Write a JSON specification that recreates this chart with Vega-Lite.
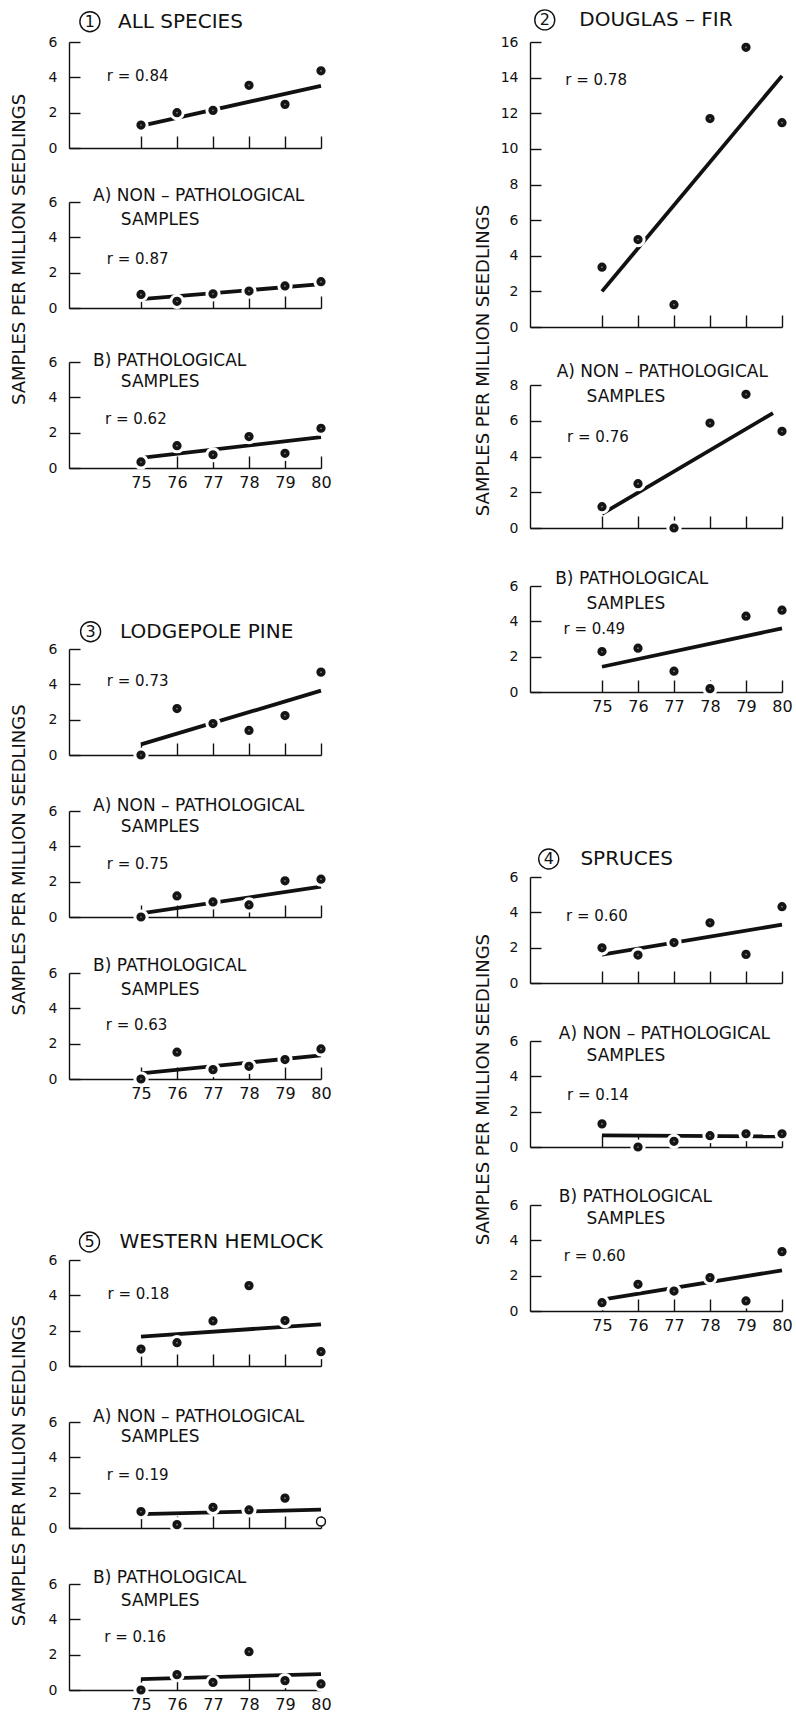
{
"$schema": "https://vega.github.io/schema/vega-lite/v6.json",
"padding": {"left": 11, "top": 7, "right": 5, "bottom": 2},
"background": "white",
"config": {
  "view": {"stroke": null},
  "font": "DejaVu Sans",
  "axis": {"labelFlush": false, "labelOverlap": false, "grid": false, "domainColor": "#111", "tickColor": "#111", "labelColor": "#111", "domainWidth": 1.4, "tickWidth": 1.4, "labelFontSize": 14, "labelFont": "DejaVu Sans"},
  "text": {"color": "#111", "font": "DejaVu Sans"},
  "title": {"font": "DejaVu Sans", "fontWeight": "normal", "color": "#111"}
},
"datasets": {
  "pts": [
    {"panel":"1T","year":75,"value":1.3},{"panel":"1T","year":76,"value":2.0},{"panel":"1T","year":77,"value":2.13},{"panel":"1T","year":78,"value":3.55},{"panel":"1T","year":79,"value":2.47},{"panel":"1T","year":80,"value":4.37},
    {"panel":"1A","year":75,"value":0.77},{"panel":"1A","year":76,"value":0.38},{"panel":"1A","year":77,"value":0.8},{"panel":"1A","year":78,"value":0.96},{"panel":"1A","year":79,"value":1.25},{"panel":"1A","year":80,"value":1.49},
    {"panel":"1B","year":75,"value":0.34},{"panel":"1B","year":76,"value":1.26},{"panel":"1B","year":77,"value":0.75},{"panel":"1B","year":78,"value":1.78},{"panel":"1B","year":79,"value":0.83},{"panel":"1B","year":80,"value":2.25},
    {"panel":"2T","year":75,"value":3.36},{"panel":"2T","year":76,"value":4.91},{"panel":"2T","year":77,"value":1.25},{"panel":"2T","year":78,"value":11.7},{"panel":"2T","year":79,"value":15.7},{"panel":"2T","year":80,"value":11.47},
    {"panel":"2A","year":75,"value":1.19},{"panel":"2A","year":76,"value":2.48},{"panel":"2A","year":77,"value":0.0},{"panel":"2A","year":78,"value":5.87},{"panel":"2A","year":79,"value":7.48},{"panel":"2A","year":80,"value":5.41},
    {"panel":"2B","year":75,"value":2.29},{"panel":"2B","year":76,"value":2.48},{"panel":"2B","year":77,"value":1.18},{"panel":"2B","year":78,"value":0.19},{"panel":"2B","year":79,"value":4.29},{"panel":"2B","year":80,"value":4.63},
    {"panel":"3T","year":75,"value":0.0},{"panel":"3T","year":76,"value":2.63},{"panel":"3T","year":77,"value":1.78},{"panel":"3T","year":78,"value":1.39},{"panel":"3T","year":79,"value":2.23},{"panel":"3T","year":80,"value":4.69},
    {"panel":"3A","year":75,"value":0.0},{"panel":"3A","year":76,"value":1.19},{"panel":"3A","year":77,"value":0.85},{"panel":"3A","year":78,"value":0.68},{"panel":"3A","year":79,"value":2.05},{"panel":"3A","year":80,"value":2.14},
    {"panel":"3B","year":75,"value":0.0},{"panel":"3B","year":76,"value":1.52},{"panel":"3B","year":77,"value":0.53},{"panel":"3B","year":78,"value":0.72},{"panel":"3B","year":79,"value":1.1},{"panel":"3B","year":80,"value":1.7},
    {"panel":"4T","year":75,"value":1.99},{"panel":"4T","year":76,"value":1.58},{"panel":"4T","year":77,"value":2.29},{"panel":"4T","year":78,"value":3.41},{"panel":"4T","year":79,"value":1.62},{"panel":"4T","year":80,"value":4.32},
    {"panel":"4A","year":75,"value":1.31},{"panel":"4A","year":76,"value":0.0},{"panel":"4A","year":77,"value":0.32},{"panel":"4A","year":78,"value":0.64},{"panel":"4A","year":79,"value":0.75},{"panel":"4A","year":80,"value":0.75},
    {"panel":"4B","year":75,"value":0.47},{"panel":"4B","year":76,"value":1.51},{"panel":"4B","year":77,"value":1.13},{"panel":"4B","year":78,"value":1.89},{"panel":"4B","year":79,"value":0.57},{"panel":"4B","year":80,"value":3.36},
    {"panel":"5T","year":75,"value":0.96},{"panel":"5T","year":76,"value":1.32},{"panel":"5T","year":77,"value":2.55},{"panel":"5T","year":78,"value":4.55},{"panel":"5T","year":79,"value":2.57},{"panel":"5T","year":80,"value":0.81},
    {"panel":"5A","year":75,"value":0.93},{"panel":"5A","year":76,"value":0.19},{"panel":"5A","year":77,"value":1.17},{"panel":"5A","year":78,"value":1.02},{"panel":"5A","year":79,"value":1.69},{"panel":"5A","year":80,"value":0.37,"hollow":true},
    {"panel":"5B","year":75,"value":0.0},{"panel":"5B","year":76,"value":0.87},{"panel":"5B","year":77,"value":0.43},{"panel":"5B","year":78,"value":2.17},{"panel":"5B","year":79,"value":0.53},{"panel":"5B","year":80,"value":0.34}
  ],
  "fit": [
    {"panel":"1T","year":75,"value":1.25},{"panel":"1T","year":80,"value":3.52},
    {"panel":"1A","year":75,"value":0.5},{"panel":"1A","year":80,"value":1.35},
    {"panel":"1B","year":75,"value":0.57},{"panel":"1B","year":80,"value":1.75},
    {"panel":"2T","year":75,"value":2.0},{"panel":"2T","year":80,"value":14.1},
    {"panel":"2A","year":75,"value":0.79},{"panel":"2A","year":79.75,"value":6.43},
    {"panel":"2B","year":75,"value":1.43},{"panel":"2B","year":80,"value":3.6},
    {"panel":"3T","year":75,"value":0.6},{"panel":"3T","year":80,"value":3.64},
    {"panel":"3A","year":75,"value":0.2},{"panel":"3A","year":80,"value":1.72},
    {"panel":"3B","year":75,"value":0.32},{"panel":"3B","year":80,"value":1.34},
    {"panel":"4T","year":75,"value":1.61},{"panel":"4T","year":80,"value":3.3},
    {"panel":"4A","year":75,"value":0.66},{"panel":"4A","year":80,"value":0.6},
    {"panel":"4B","year":75,"value":0.65},{"panel":"4B","year":80,"value":2.3},
    {"panel":"5T","year":75,"value":1.66},{"panel":"5T","year":80,"value":2.36},
    {"panel":"5A","year":75,"value":0.78},{"panel":"5A","year":80,"value":1.04},
    {"panel":"5B","year":75,"value":0.62},{"panel":"5B","year":80,"value":0.9}
  ],
  "notes": [
    {"panel":"1T","rlabel":"r = 0.84","num":"1","species":"ALL SPECIES"},
    {"panel":"1A","rlabel":"r = 0.87","head":"A) NON – PATHOLOGICAL","sub":"SAMPLES"},
    {"panel":"1B","rlabel":"r = 0.62","head":"B) PATHOLOGICAL","sub":"SAMPLES"},
    {"panel":"2T","rlabel":"r = 0.78","num":"2","species":"DOUGLAS – FIR"},
    {"panel":"2A","rlabel":"r = 0.76","head":"A) NON – PATHOLOGICAL","sub":"SAMPLES"},
    {"panel":"2B","rlabel":"r = 0.49","head":"B) PATHOLOGICAL","sub":"SAMPLES"},
    {"panel":"3T","rlabel":"r = 0.73","num":"3","species":"LODGEPOLE PINE"},
    {"panel":"3A","rlabel":"r = 0.75","head":"A) NON – PATHOLOGICAL","sub":"SAMPLES"},
    {"panel":"3B","rlabel":"r = 0.63","head":"B) PATHOLOGICAL","sub":"SAMPLES"},
    {"panel":"4T","rlabel":"r = 0.60","num":"4","species":"SPRUCES"},
    {"panel":"4A","rlabel":"r = 0.14","head":"A) NON – PATHOLOGICAL","sub":"SAMPLES"},
    {"panel":"4B","rlabel":"r = 0.60","head":"B) PATHOLOGICAL","sub":"SAMPLES"},
    {"panel":"5T","rlabel":"r = 0.18","num":"5","species":"WESTERN HEMLOCK"},
    {"panel":"5A","rlabel":"r = 0.19","head":"A) NON – PATHOLOGICAL","sub":"SAMPLES"},
    {"panel":"5B","rlabel":"r = 0.16","head":"B) PATHOLOGICAL","sub":"SAMPLES"}
  ]
},
"spacing": 141,
"hconcat": [
 {"spacing": 128, "vconcat": [
  {"title": {"text": "SAMPLES PER MILLION SEEDLINGS", "orient": "left", "anchor": "middle", "fontSize": 18, "offset": 19}, "bounds": "flush", "spacing": 54, "vconcat": [
   {"width": 252, "height": 106, "layer": [
    {"data":{"name":"fit"},"transform":[{"filter":"datum.panel === '1T'"}],"mark":{"type":"line","color":"#111","strokeWidth":3.8,"strokeCap":"butt"},"encoding":{"x":{"field":"year","type":"quantitative","scale":{"domain":[73,80],"nice":false,"zero":false},"axis":{"values":[75,76,77,78,79,80],"title":null,"labels":false,"tickSize":-12}},"y":{"field":"value","type":"quantitative","scale":{"domain":[0,6],"nice":false},"axis":{"values":[0,2,4,6],"tickCount":20,"format":"d","title":null,"tickSize":-11,"labelPadding":23,"labelOverlap":false}}}},
    {"data":{"name":"pts"},"transform":[{"filter":"datum.panel === '1T' && !datum.hollow"}],"mark":{"type":"point","shape":"circle","filled":true,"fill":"#151515","stroke":"#ffffff","strokeWidth":3,"size":150,"opacity":1},"encoding":{"x":{"field":"year","type":"quantitative"},"y":{"field":"value","type":"quantitative"}}},
    {"data":{"name":"pts"},"transform":[{"filter":"datum.panel === '1T' && !datum.hollow"}],"mark":{"type":"point","shape":"circle","filled":true,"color":"#808080","size":3,"opacity":1},"encoding":{"x":{"field":"year","type":"quantitative"},"y":{"field":"value","type":"quantitative"}}},
    {"data":{"name":"notes"},"transform":[{"filter":"datum.panel === '1T'"}],"mark":{"type":"text","align":"left","baseline":"middle","fontSize":15},"encoding":{"x":{"datum":74.05},"y":{"datum":4.1},"text":{"field":"rlabel"}}},
    {"data":{"name":"notes"},"transform":[{"filter":"datum.panel === '1T'"}],"mark":{"type":"point","shape":"circle","filled":false,"color":"#111","strokeWidth":1.4,"size":400,"opacity":1},"encoding":{"x":{"datum":73.58},"y":{"datum":7.15}}},
    {"data":{"name":"notes"},"transform":[{"filter":"datum.panel === '1T'"}],"mark":{"type":"text","align":"center","baseline":"middle","fontSize":16},"encoding":{"x":{"datum":73.58},"y":{"datum":7.15},"text":{"field":"num"}}},
    {"data":{"name":"notes"},"transform":[{"filter":"datum.panel === '1T'"}],"mark":{"type":"text","align":"left","baseline":"middle","fontSize":20},"encoding":{"x":{"datum":74.36},"y":{"datum":7.15},"text":{"field":"species"}}}
   ]},
   {"width": 252, "height": 106, "layer": [
    {"data":{"name":"fit"},"transform":[{"filter":"datum.panel === '1A'"}],"mark":{"type":"line","color":"#111","strokeWidth":3.8,"strokeCap":"butt"},"encoding":{"x":{"field":"year","type":"quantitative","scale":{"domain":[73,80],"nice":false,"zero":false},"axis":{"values":[75,76,77,78,79,80],"title":null,"labels":false,"tickSize":-12}},"y":{"field":"value","type":"quantitative","scale":{"domain":[0,6],"nice":false},"axis":{"values":[0,2,4,6],"tickCount":20,"format":"d","title":null,"tickSize":-11,"labelPadding":23,"labelOverlap":false}}}},
    {"data":{"name":"pts"},"transform":[{"filter":"datum.panel === '1A' && !datum.hollow"}],"mark":{"type":"point","shape":"circle","filled":true,"fill":"#151515","stroke":"#ffffff","strokeWidth":3,"size":150,"opacity":1},"encoding":{"x":{"field":"year","type":"quantitative"},"y":{"field":"value","type":"quantitative"}}},
    {"data":{"name":"pts"},"transform":[{"filter":"datum.panel === '1A' && !datum.hollow"}],"mark":{"type":"point","shape":"circle","filled":true,"color":"#808080","size":3,"opacity":1},"encoding":{"x":{"field":"year","type":"quantitative"},"y":{"field":"value","type":"quantitative"}}},
    {"data":{"name":"notes"},"transform":[{"filter":"datum.panel === '1A'"}],"mark":{"type":"text","align":"left","baseline":"middle","fontSize":15},"encoding":{"x":{"datum":74.05},"y":{"datum":2.8},"text":{"field":"rlabel"}}},
    {"data":{"name":"notes"},"transform":[{"filter":"datum.panel === '1A'"}],"mark":{"type":"text","align":"left","baseline":"middle","fontSize":17},"encoding":{"x":{"datum":73.67},"y":{"datum":6.34},"text":{"field":"head"}}},
    {"data":{"name":"notes"},"transform":[{"filter":"datum.panel === '1A'"}],"mark":{"type":"text","align":"left","baseline":"middle","fontSize":17},"encoding":{"x":{"datum":74.44},"y":{"datum":4.98},"text":{"field":"sub"}}}
   ]},
   {"width": 252, "height": 106, "layer": [
    {"data":{"name":"fit"},"transform":[{"filter":"datum.panel === '1B'"}],"mark":{"type":"line","color":"#111","strokeWidth":3.8,"strokeCap":"butt"},"encoding":{"x":{"field":"year","type":"quantitative","scale":{"domain":[73,80],"nice":false,"zero":false},"axis":{"values":[75,76,77,78,79,80],"title":null,"tickSize":-12,"labelPadding":18,"labelFontSize":16}},"y":{"field":"value","type":"quantitative","scale":{"domain":[0,6],"nice":false},"axis":{"values":[0,2,4,6],"tickCount":20,"format":"d","title":null,"tickSize":-11,"labelPadding":23,"labelOverlap":false}}}},
    {"data":{"name":"pts"},"transform":[{"filter":"datum.panel === '1B' && !datum.hollow"}],"mark":{"type":"point","shape":"circle","filled":true,"fill":"#151515","stroke":"#ffffff","strokeWidth":3,"size":150,"opacity":1},"encoding":{"x":{"field":"year","type":"quantitative"},"y":{"field":"value","type":"quantitative"}}},
    {"data":{"name":"pts"},"transform":[{"filter":"datum.panel === '1B' && !datum.hollow"}],"mark":{"type":"point","shape":"circle","filled":true,"color":"#808080","size":3,"opacity":1},"encoding":{"x":{"field":"year","type":"quantitative"},"y":{"field":"value","type":"quantitative"}}},
    {"data":{"name":"notes"},"transform":[{"filter":"datum.panel === '1B'"}],"mark":{"type":"text","align":"left","baseline":"middle","fontSize":15},"encoding":{"x":{"datum":74.0},"y":{"datum":2.8},"text":{"field":"rlabel"}}},
    {"data":{"name":"notes"},"transform":[{"filter":"datum.panel === '1B'"}],"mark":{"type":"text","align":"left","baseline":"middle","fontSize":17},"encoding":{"x":{"datum":73.67},"y":{"datum":6.05},"text":{"field":"head"}}},
    {"data":{"name":"notes"},"transform":[{"filter":"datum.panel === '1B'"}],"mark":{"type":"text","align":"left","baseline":"middle","fontSize":17},"encoding":{"x":{"datum":74.44},"y":{"datum":4.88},"text":{"field":"sub"}}}
   ]}
  ]},
  {"title": {"text": "SAMPLES PER MILLION SEEDLINGS", "orient": "left", "anchor": "middle", "fontSize": 18, "offset": 19}, "bounds": "flush", "spacing": 56, "vconcat": [
   {"width": 252, "height": 106, "layer": [
    {"data":{"name":"fit"},"transform":[{"filter":"datum.panel === '3T'"}],"mark":{"type":"line","color":"#111","strokeWidth":3.8,"strokeCap":"butt"},"encoding":{"x":{"field":"year","type":"quantitative","scale":{"domain":[73,80],"nice":false,"zero":false},"axis":{"values":[75,76,77,78,79,80],"title":null,"labels":false,"tickSize":-12}},"y":{"field":"value","type":"quantitative","scale":{"domain":[0,6],"nice":false},"axis":{"values":[0,2,4,6],"tickCount":20,"format":"d","title":null,"tickSize":-11,"labelPadding":23,"labelOverlap":false}}}},
    {"data":{"name":"pts"},"transform":[{"filter":"datum.panel === '3T' && !datum.hollow"}],"mark":{"type":"point","shape":"circle","filled":true,"fill":"#151515","stroke":"#ffffff","strokeWidth":3,"size":150,"opacity":1},"encoding":{"x":{"field":"year","type":"quantitative"},"y":{"field":"value","type":"quantitative"}}},
    {"data":{"name":"pts"},"transform":[{"filter":"datum.panel === '3T' && !datum.hollow"}],"mark":{"type":"point","shape":"circle","filled":true,"color":"#808080","size":3,"opacity":1},"encoding":{"x":{"field":"year","type":"quantitative"},"y":{"field":"value","type":"quantitative"}}},
    {"data":{"name":"notes"},"transform":[{"filter":"datum.panel === '3T'"}],"mark":{"type":"text","align":"left","baseline":"middle","fontSize":15},"encoding":{"x":{"datum":74.05},"y":{"datum":4.2},"text":{"field":"rlabel"}}},
    {"data":{"name":"notes"},"transform":[{"filter":"datum.panel === '3T'"}],"mark":{"type":"point","shape":"circle","filled":false,"color":"#111","strokeWidth":1.4,"size":400,"opacity":1},"encoding":{"x":{"datum":73.6},"y":{"datum":6.98}}},
    {"data":{"name":"notes"},"transform":[{"filter":"datum.panel === '3T'"}],"mark":{"type":"text","align":"center","baseline":"middle","fontSize":16},"encoding":{"x":{"datum":73.6},"y":{"datum":6.98},"text":{"field":"num"}}},
    {"data":{"name":"notes"},"transform":[{"filter":"datum.panel === '3T'"}],"mark":{"type":"text","align":"left","baseline":"middle","fontSize":20},"encoding":{"x":{"datum":74.42},"y":{"datum":6.98},"text":{"field":"species"}}}
   ]},
   {"width": 252, "height": 106, "layer": [
    {"data":{"name":"fit"},"transform":[{"filter":"datum.panel === '3A'"}],"mark":{"type":"line","color":"#111","strokeWidth":3.8,"strokeCap":"butt"},"encoding":{"x":{"field":"year","type":"quantitative","scale":{"domain":[73,80],"nice":false,"zero":false},"axis":{"values":[75,76,77,78,79,80],"title":null,"labels":false,"tickSize":-12}},"y":{"field":"value","type":"quantitative","scale":{"domain":[0,6],"nice":false},"axis":{"values":[0,2,4,6],"tickCount":20,"format":"d","title":null,"tickSize":-11,"labelPadding":23,"labelOverlap":false}}}},
    {"data":{"name":"pts"},"transform":[{"filter":"datum.panel === '3A' && !datum.hollow"}],"mark":{"type":"point","shape":"circle","filled":true,"fill":"#151515","stroke":"#ffffff","strokeWidth":3,"size":150,"opacity":1},"encoding":{"x":{"field":"year","type":"quantitative"},"y":{"field":"value","type":"quantitative"}}},
    {"data":{"name":"pts"},"transform":[{"filter":"datum.panel === '3A' && !datum.hollow"}],"mark":{"type":"point","shape":"circle","filled":true,"color":"#808080","size":3,"opacity":1},"encoding":{"x":{"field":"year","type":"quantitative"},"y":{"field":"value","type":"quantitative"}}},
    {"data":{"name":"notes"},"transform":[{"filter":"datum.panel === '3A'"}],"mark":{"type":"text","align":"left","baseline":"middle","fontSize":15},"encoding":{"x":{"datum":74.05},"y":{"datum":3.0},"text":{"field":"rlabel"}}},
    {"data":{"name":"notes"},"transform":[{"filter":"datum.panel === '3A'"}],"mark":{"type":"text","align":"left","baseline":"middle","fontSize":17},"encoding":{"x":{"datum":73.67},"y":{"datum":6.28},"text":{"field":"head"}}},
    {"data":{"name":"notes"},"transform":[{"filter":"datum.panel === '3A'"}],"mark":{"type":"text","align":"left","baseline":"middle","fontSize":17},"encoding":{"x":{"datum":74.44},"y":{"datum":5.1},"text":{"field":"sub"}}}
   ]},
   {"width": 252, "height": 106, "layer": [
    {"data":{"name":"fit"},"transform":[{"filter":"datum.panel === '3B'"}],"mark":{"type":"line","color":"#111","strokeWidth":3.8,"strokeCap":"butt"},"encoding":{"x":{"field":"year","type":"quantitative","scale":{"domain":[73,80],"nice":false,"zero":false},"axis":{"values":[75,76,77,78,79,80],"title":null,"tickSize":-12,"labelPadding":18,"labelFontSize":16}},"y":{"field":"value","type":"quantitative","scale":{"domain":[0,6],"nice":false},"axis":{"values":[0,2,4,6],"tickCount":20,"format":"d","title":null,"tickSize":-11,"labelPadding":23,"labelOverlap":false}}}},
    {"data":{"name":"pts"},"transform":[{"filter":"datum.panel === '3B' && !datum.hollow"}],"mark":{"type":"point","shape":"circle","filled":true,"fill":"#151515","stroke":"#ffffff","strokeWidth":3,"size":150,"opacity":1},"encoding":{"x":{"field":"year","type":"quantitative"},"y":{"field":"value","type":"quantitative"}}},
    {"data":{"name":"pts"},"transform":[{"filter":"datum.panel === '3B' && !datum.hollow"}],"mark":{"type":"point","shape":"circle","filled":true,"color":"#808080","size":3,"opacity":1},"encoding":{"x":{"field":"year","type":"quantitative"},"y":{"field":"value","type":"quantitative"}}},
    {"data":{"name":"notes"},"transform":[{"filter":"datum.panel === '3B'"}],"mark":{"type":"text","align":"left","baseline":"middle","fontSize":15},"encoding":{"x":{"datum":74.02},"y":{"datum":3.03},"text":{"field":"rlabel"}}},
    {"data":{"name":"notes"},"transform":[{"filter":"datum.panel === '3B'"}],"mark":{"type":"text","align":"left","baseline":"middle","fontSize":17},"encoding":{"x":{"datum":73.67},"y":{"datum":6.4},"text":{"field":"head"}}},
    {"data":{"name":"notes"},"transform":[{"filter":"datum.panel === '3B'"}],"mark":{"type":"text","align":"left","baseline":"middle","fontSize":17},"encoding":{"x":{"datum":74.44},"y":{"datum":5.02},"text":{"field":"sub"}}}
   ]}
  ]},
  {"title": {"text": "SAMPLES PER MILLION SEEDLINGS", "orient": "left", "anchor": "middle", "fontSize": 18, "offset": 19}, "bounds": "flush", "spacing": 56, "vconcat": [
   {"width": 252, "height": 106, "layer": [
    {"data":{"name":"fit"},"transform":[{"filter":"datum.panel === '5T'"}],"mark":{"type":"line","color":"#111","strokeWidth":3.8,"strokeCap":"butt"},"encoding":{"x":{"field":"year","type":"quantitative","scale":{"domain":[73,80],"nice":false,"zero":false},"axis":{"values":[75,76,77,78,79,80],"title":null,"labels":false,"tickSize":-12}},"y":{"field":"value","type":"quantitative","scale":{"domain":[0,6],"nice":false},"axis":{"values":[0,2,4,6],"tickCount":20,"format":"d","title":null,"tickSize":-11,"labelPadding":23,"labelOverlap":false}}}},
    {"data":{"name":"pts"},"transform":[{"filter":"datum.panel === '5T' && !datum.hollow"}],"mark":{"type":"point","shape":"circle","filled":true,"fill":"#151515","stroke":"#ffffff","strokeWidth":3,"size":150,"opacity":1},"encoding":{"x":{"field":"year","type":"quantitative"},"y":{"field":"value","type":"quantitative"}}},
    {"data":{"name":"pts"},"transform":[{"filter":"datum.panel === '5T' && !datum.hollow"}],"mark":{"type":"point","shape":"circle","filled":true,"color":"#808080","size":3,"opacity":1},"encoding":{"x":{"field":"year","type":"quantitative"},"y":{"field":"value","type":"quantitative"}}},
    {"data":{"name":"notes"},"transform":[{"filter":"datum.panel === '5T'"}],"mark":{"type":"text","align":"left","baseline":"middle","fontSize":15},"encoding":{"x":{"datum":74.07},"y":{"datum":4.1},"text":{"field":"rlabel"}}},
    {"data":{"name":"notes"},"transform":[{"filter":"datum.panel === '5T'"}],"mark":{"type":"point","shape":"circle","filled":false,"color":"#111","strokeWidth":1.4,"size":400,"opacity":1},"encoding":{"x":{"datum":73.57},"y":{"datum":7.02}}},
    {"data":{"name":"notes"},"transform":[{"filter":"datum.panel === '5T'"}],"mark":{"type":"text","align":"center","baseline":"middle","fontSize":16},"encoding":{"x":{"datum":73.57},"y":{"datum":7.02},"text":{"field":"num"}}},
    {"data":{"name":"notes"},"transform":[{"filter":"datum.panel === '5T'"}],"mark":{"type":"text","align":"left","baseline":"middle","fontSize":20},"encoding":{"x":{"datum":74.4},"y":{"datum":7.02},"text":{"field":"species"}}}
   ]},
   {"width": 252, "height": 106, "layer": [
    {"data":{"name":"fit"},"transform":[{"filter":"datum.panel === '5A'"}],"mark":{"type":"line","color":"#111","strokeWidth":3.8,"strokeCap":"butt"},"encoding":{"x":{"field":"year","type":"quantitative","scale":{"domain":[73,80],"nice":false,"zero":false},"axis":{"values":[75,76,77,78,79,80],"title":null,"labels":false,"tickSize":-12}},"y":{"field":"value","type":"quantitative","scale":{"domain":[0,6],"nice":false},"axis":{"values":[0,2,4,6],"tickCount":20,"format":"d","title":null,"tickSize":-11,"labelPadding":23,"labelOverlap":false}}}},
    {"data":{"name":"pts"},"transform":[{"filter":"datum.panel === '5A' && !datum.hollow"}],"mark":{"type":"point","shape":"circle","filled":true,"fill":"#151515","stroke":"#ffffff","strokeWidth":3,"size":150,"opacity":1},"encoding":{"x":{"field":"year","type":"quantitative"},"y":{"field":"value","type":"quantitative"}}},
    {"data":{"name":"pts"},"transform":[{"filter":"datum.panel === '5A' && !datum.hollow"}],"mark":{"type":"point","shape":"circle","filled":true,"color":"#808080","size":3,"opacity":1},"encoding":{"x":{"field":"year","type":"quantitative"},"y":{"field":"value","type":"quantitative"}}},
    {"data":{"name":"pts"},"transform":[{"filter":"datum.panel === '5A' && datum.hollow"}],"mark":{"type":"point","shape":"circle","filled":true,"fill":"#ffffff","stroke":"#111","strokeWidth":1.5,"size":80,"opacity":1},"encoding":{"x":{"field":"year","type":"quantitative"},"y":{"field":"value","type":"quantitative"}}},
    {"data":{"name":"notes"},"transform":[{"filter":"datum.panel === '5A'"}],"mark":{"type":"text","align":"left","baseline":"middle","fontSize":15},"encoding":{"x":{"datum":74.05},"y":{"datum":3.0},"text":{"field":"rlabel"}}},
    {"data":{"name":"notes"},"transform":[{"filter":"datum.panel === '5A'"}],"mark":{"type":"text","align":"left","baseline":"middle","fontSize":17},"encoding":{"x":{"datum":73.67},"y":{"datum":6.3},"text":{"field":"head"}}},
    {"data":{"name":"notes"},"transform":[{"filter":"datum.panel === '5A'"}],"mark":{"type":"text","align":"left","baseline":"middle","fontSize":17},"encoding":{"x":{"datum":74.44},"y":{"datum":5.14},"text":{"field":"sub"}}}
   ]},
   {"width": 252, "height": 106, "layer": [
    {"data":{"name":"fit"},"transform":[{"filter":"datum.panel === '5B'"}],"mark":{"type":"line","color":"#111","strokeWidth":3.8,"strokeCap":"butt"},"encoding":{"x":{"field":"year","type":"quantitative","scale":{"domain":[73,80],"nice":false,"zero":false},"axis":{"values":[75,76,77,78,79,80],"title":null,"tickSize":-12,"labelPadding":18,"labelFontSize":16}},"y":{"field":"value","type":"quantitative","scale":{"domain":[0,6],"nice":false},"axis":{"values":[0,2,4,6],"tickCount":20,"format":"d","title":null,"tickSize":-11,"labelPadding":23,"labelOverlap":false}}}},
    {"data":{"name":"pts"},"transform":[{"filter":"datum.panel === '5B' && !datum.hollow"}],"mark":{"type":"point","shape":"circle","filled":true,"fill":"#151515","stroke":"#ffffff","strokeWidth":3,"size":150,"opacity":1},"encoding":{"x":{"field":"year","type":"quantitative"},"y":{"field":"value","type":"quantitative"}}},
    {"data":{"name":"pts"},"transform":[{"filter":"datum.panel === '5B' && !datum.hollow"}],"mark":{"type":"point","shape":"circle","filled":true,"color":"#808080","size":3,"opacity":1},"encoding":{"x":{"field":"year","type":"quantitative"},"y":{"field":"value","type":"quantitative"}}},
    {"data":{"name":"notes"},"transform":[{"filter":"datum.panel === '5B'"}],"mark":{"type":"text","align":"left","baseline":"middle","fontSize":15},"encoding":{"x":{"datum":73.98},"y":{"datum":2.98},"text":{"field":"rlabel"}}},
    {"data":{"name":"notes"},"transform":[{"filter":"datum.panel === '5B'"}],"mark":{"type":"text","align":"left","baseline":"middle","fontSize":17},"encoding":{"x":{"datum":73.67},"y":{"datum":6.32},"text":{"field":"head"}}},
    {"data":{"name":"notes"},"transform":[{"filter":"datum.panel === '5B'"}],"mark":{"type":"text","align":"left","baseline":"middle","fontSize":17},"encoding":{"x":{"datum":74.44},"y":{"datum":5.02},"text":{"field":"sub"}}}
   ]}
  ]}
 ]},
 {"spacing": 132, "vconcat": [
  {"title": {"text": "SAMPLES PER MILLION SEEDLINGS", "orient": "left", "anchor": "middle", "fontSize": 18, "offset": 7}, "bounds": "flush", "spacing": 58, "vconcat": [
   {"width": 252, "height": 285, "layer": [
    {"data":{"name":"fit"},"transform":[{"filter":"datum.panel === '2T'"}],"mark":{"type":"line","color":"#111","strokeWidth":3.8,"strokeCap":"butt"},"encoding":{"x":{"field":"year","type":"quantitative","scale":{"domain":[73,80],"nice":false,"zero":false},"axis":{"values":[75,76,77,78,79,80],"title":null,"labels":false,"tickSize":-12}},"y":{"field":"value","type":"quantitative","scale":{"domain":[0,16],"nice":false},"axis":{"values":[0,2,4,6,8,10,12,14,16],"tickCount":20,"format":"d","title":null,"tickSize":-11,"labelPadding":23,"labelOverlap":false}}}},
    {"data":{"name":"pts"},"transform":[{"filter":"datum.panel === '2T' && !datum.hollow"}],"mark":{"type":"point","shape":"circle","filled":true,"fill":"#151515","stroke":"#ffffff","strokeWidth":3,"size":150,"opacity":1},"encoding":{"x":{"field":"year","type":"quantitative"},"y":{"field":"value","type":"quantitative"}}},
    {"data":{"name":"pts"},"transform":[{"filter":"datum.panel === '2T' && !datum.hollow"}],"mark":{"type":"point","shape":"circle","filled":true,"color":"#808080","size":3,"opacity":1},"encoding":{"x":{"field":"year","type":"quantitative"},"y":{"field":"value","type":"quantitative"}}},
    {"data":{"name":"notes"},"transform":[{"filter":"datum.panel === '2T'"}],"mark":{"type":"text","align":"left","baseline":"middle","fontSize":15},"encoding":{"x":{"datum":73.98},"y":{"datum":13.85},"text":{"field":"rlabel"}}},
    {"data":{"name":"notes"},"transform":[{"filter":"datum.panel === '2T'"}],"mark":{"type":"point","shape":"circle","filled":false,"color":"#111","strokeWidth":1.4,"size":400,"opacity":1},"encoding":{"x":{"datum":73.41},"y":{"datum":17.24}}},
    {"data":{"name":"notes"},"transform":[{"filter":"datum.panel === '2T'"}],"mark":{"type":"text","align":"center","baseline":"middle","fontSize":16},"encoding":{"x":{"datum":73.41},"y":{"datum":17.24},"text":{"field":"num"}}},
    {"data":{"name":"notes"},"transform":[{"filter":"datum.panel === '2T'"}],"mark":{"type":"text","align":"left","baseline":"middle","fontSize":20},"encoding":{"x":{"datum":74.37},"y":{"datum":17.24},"text":{"field":"species"}}}
   ]},
   {"width": 252, "height": 143, "layer": [
    {"data":{"name":"fit"},"transform":[{"filter":"datum.panel === '2A'"}],"mark":{"type":"line","color":"#111","strokeWidth":3.8,"strokeCap":"butt"},"encoding":{"x":{"field":"year","type":"quantitative","scale":{"domain":[73,80],"nice":false,"zero":false},"axis":{"values":[75,76,77,78,79,80],"title":null,"labels":false,"tickSize":-12}},"y":{"field":"value","type":"quantitative","scale":{"domain":[0,8],"nice":false},"axis":{"values":[0,2,4,6,8],"tickCount":20,"format":"d","title":null,"tickSize":-11,"labelPadding":23,"labelOverlap":false}}}},
    {"data":{"name":"pts"},"transform":[{"filter":"datum.panel === '2A' && !datum.hollow"}],"mark":{"type":"point","shape":"circle","filled":true,"fill":"#151515","stroke":"#ffffff","strokeWidth":3,"size":150,"opacity":1},"encoding":{"x":{"field":"year","type":"quantitative"},"y":{"field":"value","type":"quantitative"}}},
    {"data":{"name":"pts"},"transform":[{"filter":"datum.panel === '2A' && !datum.hollow"}],"mark":{"type":"point","shape":"circle","filled":true,"color":"#808080","size":3,"opacity":1},"encoding":{"x":{"field":"year","type":"quantitative"},"y":{"field":"value","type":"quantitative"}}},
    {"data":{"name":"notes"},"transform":[{"filter":"datum.panel === '2A'"}],"mark":{"type":"text","align":"left","baseline":"middle","fontSize":15},"encoding":{"x":{"datum":74.03},"y":{"datum":5.1},"text":{"field":"rlabel"}}},
    {"data":{"name":"notes"},"transform":[{"filter":"datum.panel === '2A'"}],"mark":{"type":"text","align":"left","baseline":"middle","fontSize":17},"encoding":{"x":{"datum":73.74},"y":{"datum":8.74},"text":{"field":"head"}}},
    {"data":{"name":"notes"},"transform":[{"filter":"datum.panel === '2A'"}],"mark":{"type":"text","align":"left","baseline":"middle","fontSize":17},"encoding":{"x":{"datum":74.57},"y":{"datum":7.35},"text":{"field":"sub"}}}
   ]},
   {"width": 252, "height": 106, "layer": [
    {"data":{"name":"fit"},"transform":[{"filter":"datum.panel === '2B'"}],"mark":{"type":"line","color":"#111","strokeWidth":3.8,"strokeCap":"butt"},"encoding":{"x":{"field":"year","type":"quantitative","scale":{"domain":[73,80],"nice":false,"zero":false},"axis":{"values":[75,76,77,78,79,80],"title":null,"tickSize":-12,"labelPadding":18,"labelFontSize":16}},"y":{"field":"value","type":"quantitative","scale":{"domain":[0,6],"nice":false},"axis":{"values":[0,2,4,6],"tickCount":20,"format":"d","title":null,"tickSize":-11,"labelPadding":23,"labelOverlap":false}}}},
    {"data":{"name":"pts"},"transform":[{"filter":"datum.panel === '2B' && !datum.hollow"}],"mark":{"type":"point","shape":"circle","filled":true,"fill":"#151515","stroke":"#ffffff","strokeWidth":3,"size":150,"opacity":1},"encoding":{"x":{"field":"year","type":"quantitative"},"y":{"field":"value","type":"quantitative"}}},
    {"data":{"name":"pts"},"transform":[{"filter":"datum.panel === '2B' && !datum.hollow"}],"mark":{"type":"point","shape":"circle","filled":true,"color":"#808080","size":3,"opacity":1},"encoding":{"x":{"field":"year","type":"quantitative"},"y":{"field":"value","type":"quantitative"}}},
    {"data":{"name":"notes"},"transform":[{"filter":"datum.panel === '2B'"}],"mark":{"type":"text","align":"left","baseline":"middle","fontSize":15},"encoding":{"x":{"datum":73.93},"y":{"datum":3.56},"text":{"field":"rlabel"}}},
    {"data":{"name":"notes"},"transform":[{"filter":"datum.panel === '2B'"}],"mark":{"type":"text","align":"left","baseline":"middle","fontSize":17},"encoding":{"x":{"datum":73.7},"y":{"datum":6.42},"text":{"field":"head"}}},
    {"data":{"name":"notes"},"transform":[{"filter":"datum.panel === '2B'"}],"mark":{"type":"text","align":"left","baseline":"middle","fontSize":17},"encoding":{"x":{"datum":74.57},"y":{"datum":5.0},"text":{"field":"sub"}}}
   ]}
  ]},
  {"title": {"text": "SAMPLES PER MILLION SEEDLINGS", "orient": "left", "anchor": "middle", "fontSize": 18, "offset": 16}, "bounds": "flush", "spacing": 58, "vconcat": [
   {"width": 252, "height": 106, "layer": [
    {"data":{"name":"fit"},"transform":[{"filter":"datum.panel === '4T'"}],"mark":{"type":"line","color":"#111","strokeWidth":3.8,"strokeCap":"butt"},"encoding":{"x":{"field":"year","type":"quantitative","scale":{"domain":[73,80],"nice":false,"zero":false},"axis":{"values":[75,76,77,78,79,80],"title":null,"labels":false,"tickSize":-12}},"y":{"field":"value","type":"quantitative","scale":{"domain":[0,6],"nice":false},"axis":{"values":[0,2,4,6],"tickCount":20,"format":"d","title":null,"tickSize":-11,"labelPadding":23,"labelOverlap":false}}}},
    {"data":{"name":"pts"},"transform":[{"filter":"datum.panel === '4T' && !datum.hollow"}],"mark":{"type":"point","shape":"circle","filled":true,"fill":"#151515","stroke":"#ffffff","strokeWidth":3,"size":150,"opacity":1},"encoding":{"x":{"field":"year","type":"quantitative"},"y":{"field":"value","type":"quantitative"}}},
    {"data":{"name":"pts"},"transform":[{"filter":"datum.panel === '4T' && !datum.hollow"}],"mark":{"type":"point","shape":"circle","filled":true,"color":"#808080","size":3,"opacity":1},"encoding":{"x":{"field":"year","type":"quantitative"},"y":{"field":"value","type":"quantitative"}}},
    {"data":{"name":"notes"},"transform":[{"filter":"datum.panel === '4T'"}],"mark":{"type":"text","align":"left","baseline":"middle","fontSize":15},"encoding":{"x":{"datum":74.0},"y":{"datum":3.78},"text":{"field":"rlabel"}}},
    {"data":{"name":"notes"},"transform":[{"filter":"datum.panel === '4T'"}],"mark":{"type":"point","shape":"circle","filled":false,"color":"#111","strokeWidth":1.4,"size":400,"opacity":1},"encoding":{"x":{"datum":73.52},"y":{"datum":7.02}}},
    {"data":{"name":"notes"},"transform":[{"filter":"datum.panel === '4T'"}],"mark":{"type":"text","align":"center","baseline":"middle","fontSize":16},"encoding":{"x":{"datum":73.52},"y":{"datum":7.02},"text":{"field":"num"}}},
    {"data":{"name":"notes"},"transform":[{"filter":"datum.panel === '4T'"}],"mark":{"type":"text","align":"left","baseline":"middle","fontSize":20},"encoding":{"x":{"datum":74.4},"y":{"datum":7.02},"text":{"field":"species"}}}
   ]},
   {"width": 252, "height": 106, "layer": [
    {"data":{"name":"fit"},"transform":[{"filter":"datum.panel === '4A'"}],"mark":{"type":"line","color":"#111","strokeWidth":3.8,"strokeCap":"butt"},"encoding":{"x":{"field":"year","type":"quantitative","scale":{"domain":[73,80],"nice":false,"zero":false},"axis":{"values":[75,76,77,78,79,80],"title":null,"labels":false,"tickSize":-12}},"y":{"field":"value","type":"quantitative","scale":{"domain":[0,6],"nice":false},"axis":{"values":[0,2,4,6],"tickCount":20,"format":"d","title":null,"tickSize":-11,"labelPadding":23,"labelOverlap":false}}}},
    {"data":{"name":"pts"},"transform":[{"filter":"datum.panel === '4A' && !datum.hollow"}],"mark":{"type":"point","shape":"circle","filled":true,"fill":"#151515","stroke":"#ffffff","strokeWidth":3,"size":150,"opacity":1},"encoding":{"x":{"field":"year","type":"quantitative"},"y":{"field":"value","type":"quantitative"}}},
    {"data":{"name":"pts"},"transform":[{"filter":"datum.panel === '4A' && !datum.hollow"}],"mark":{"type":"point","shape":"circle","filled":true,"color":"#808080","size":3,"opacity":1},"encoding":{"x":{"field":"year","type":"quantitative"},"y":{"field":"value","type":"quantitative"}}},
    {"data":{"name":"notes"},"transform":[{"filter":"datum.panel === '4A'"}],"mark":{"type":"text","align":"left","baseline":"middle","fontSize":15},"encoding":{"x":{"datum":74.03},"y":{"datum":2.97},"text":{"field":"rlabel"}}},
    {"data":{"name":"notes"},"transform":[{"filter":"datum.panel === '4A'"}],"mark":{"type":"text","align":"left","baseline":"middle","fontSize":17},"encoding":{"x":{"datum":73.8},"y":{"datum":6.4},"text":{"field":"head"}}},
    {"data":{"name":"notes"},"transform":[{"filter":"datum.panel === '4A'"}],"mark":{"type":"text","align":"left","baseline":"middle","fontSize":17},"encoding":{"x":{"datum":74.57},"y":{"datum":5.17},"text":{"field":"sub"}}}
   ]},
   {"width": 252, "height": 106, "layer": [
    {"data":{"name":"fit"},"transform":[{"filter":"datum.panel === '4B'"}],"mark":{"type":"line","color":"#111","strokeWidth":3.8,"strokeCap":"butt"},"encoding":{"x":{"field":"year","type":"quantitative","scale":{"domain":[73,80],"nice":false,"zero":false},"axis":{"values":[75,76,77,78,79,80],"title":null,"tickSize":-12,"labelPadding":18,"labelFontSize":16}},"y":{"field":"value","type":"quantitative","scale":{"domain":[0,6],"nice":false},"axis":{"values":[0,2,4,6],"tickCount":20,"format":"d","title":null,"tickSize":-11,"labelPadding":23,"labelOverlap":false}}}},
    {"data":{"name":"pts"},"transform":[{"filter":"datum.panel === '4B' && !datum.hollow"}],"mark":{"type":"point","shape":"circle","filled":true,"fill":"#151515","stroke":"#ffffff","strokeWidth":3,"size":150,"opacity":1},"encoding":{"x":{"field":"year","type":"quantitative"},"y":{"field":"value","type":"quantitative"}}},
    {"data":{"name":"pts"},"transform":[{"filter":"datum.panel === '4B' && !datum.hollow"}],"mark":{"type":"point","shape":"circle","filled":true,"color":"#808080","size":3,"opacity":1},"encoding":{"x":{"field":"year","type":"quantitative"},"y":{"field":"value","type":"quantitative"}}},
    {"data":{"name":"notes"},"transform":[{"filter":"datum.panel === '4B'"}],"mark":{"type":"text","align":"left","baseline":"middle","fontSize":15},"encoding":{"x":{"datum":73.94},"y":{"datum":3.1},"text":{"field":"rlabel"}}},
    {"data":{"name":"notes"},"transform":[{"filter":"datum.panel === '4B'"}],"mark":{"type":"text","align":"left","baseline":"middle","fontSize":17},"encoding":{"x":{"datum":73.8},"y":{"datum":6.47},"text":{"field":"head"}}},
    {"data":{"name":"notes"},"transform":[{"filter":"datum.panel === '4B'"}],"mark":{"type":"text","align":"left","baseline":"middle","fontSize":17},"encoding":{"x":{"datum":74.57},"y":{"datum":5.2},"text":{"field":"sub"}}}
   ]}
  ]}
 ]}
]
}
